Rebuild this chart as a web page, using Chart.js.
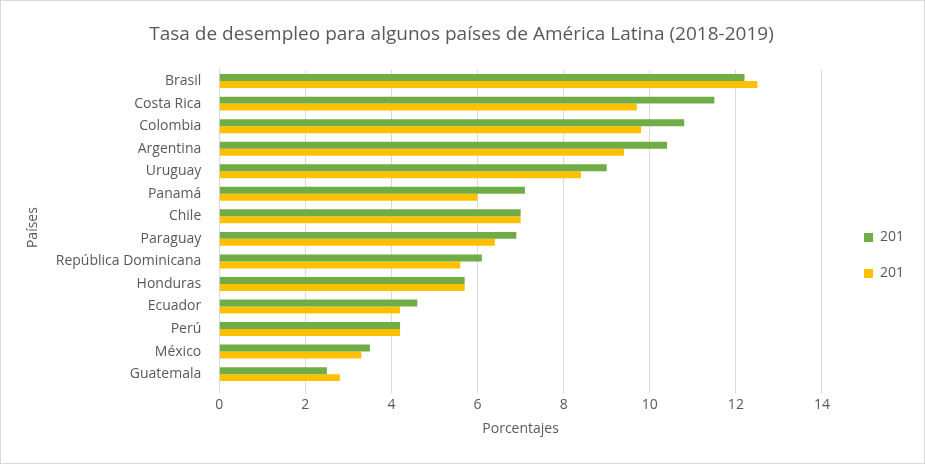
<!DOCTYPE html>
<html>
<head>
<meta charset="utf-8">
<script src="https://cdn.jsdelivr.net/npm/chart.js@4/dist/chart.umd.min.js"></script>
<style>
  body { margin: 0; background: #fff; }
  #wrap { position: absolute; left: 0; top: 0; width: 923px; height: 462px; border: 1px solid #d9d9d9; }
</style>
</head>
<body>
<div id="wrap"><canvas id="grafico"></canvas></div>
<script>
// Datos
const paises = ['Brasil', 'Costa Rica', 'Colombia', 'Argentina', 'Uruguay', 'Panamá', 'Chile', 'Paraguay',
    'República Dominicana', 'Honduras', 'Ecuador', 'Perú', 'México', 'Guatemala'];
const valores2019 = [12.2, 11.5, 10.8, 10.4, 9.0, 7.1, 7.0, 6.9, 6.1, 5.7, 4.6, 4.2, 3.5, 2.5];
const valores2018 = [12.5, 9.7, 9.8, 9.4, 8.4, 6.0, 7.0, 6.4, 5.6, 5.7, 4.2, 4.2, 3.3, 2.8];
const ticksX = [0, 2, 4, 6, 8, 10, 12, 14];

const fuente = "'Open Sans', 'Liberation Sans', sans-serif";
const gris = '#595959';

new Chart(document.getElementById('grafico').getContext('2d'), {
    type: 'bar',
    data: {
        labels: paises,
        datasets: [
            { label: '2019', data: valores2019, backgroundColor: '#70AD47' },
            { label: '2018', data: valores2018, backgroundColor: '#FFC000' }
        ]
    },
    options: {
        indexAxis: 'y',
        responsive: true,
        maintainAspectRatio: false,
        animation: false,
        datasets: { bar: { categoryPercentage: 0.62, barPercentage: 1.0 } },
        layout: { padding: { left: 20, right: 22, top: 14, bottom: 22 } },
        scales: {
            x: {
                min: 0, max: 14,
                afterBuildTicks: axis => { axis.ticks = ticksX.map(v => ({ value: v })); },
                grid: { color: '#d9d9d9' },
                border: { display: false },
                ticks: { color: gris, font: { family: fuente, size: 14 } },
                title: { display: true, text: 'Porcentajes', color: gris, font: { family: fuente, size: 14 } }
            },
            y: {
                grid: { display: false },
                border: { color: '#d9d9d9' },
                ticks: { color: gris, padding: 10, font: { family: fuente, size: 14 } },
                title: { display: true, text: 'Países', color: gris, font: { family: fuente, size: 14 } }
            }
        },
        plugins: {
            title: {
                display: true,
                text: 'Tasa de desempleo para algunos países de América Latina (2018-2019)',
                color: gris,
                font: { family: fuente, size: 19, weight: 'normal' },
                padding: { top: 8, bottom: 24 }
            },
            legend: {
                position: 'right',
                labels: { color: gris, boxWidth: 9, boxHeight: 9, padding: 22, font: { family: fuente, size: 14 } },
                onClick: null
            },
            tooltip: { enabled: false }
        }
    },
    plugins: [{
        // desplazar la leyenda hacia abajo y a la derecha como en el original
        id: 'moverLeyenda',
        afterLayout: chart => {
            const l = chart.legend;
            l.left += 20;
            l.top += 55;
            l.legendHitBoxes.forEach(h => { h.left += 20; h.top += 55; });
        }
    }]
});
</script>
</body>
</html>
